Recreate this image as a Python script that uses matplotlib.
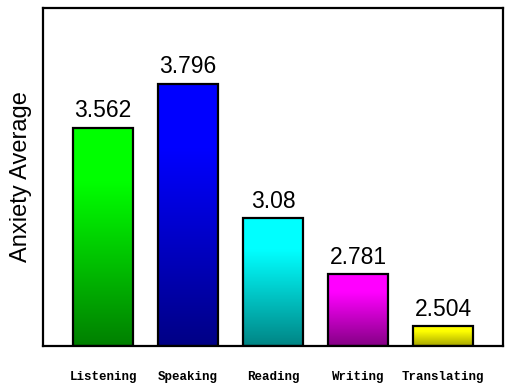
import numpy as np
import matplotlib
matplotlib.use("Agg")
import matplotlib.pyplot as plt
from matplotlib.colors import to_rgb

categories = ["Listening", "Speaking", "Reading", "Writing", "Translating"]
values = [3.562, 3.796, 3.08, 2.781, 2.504]
value_labels = ["3.562", "3.796", "3.08", "2.781", "2.504"]
bar_colors = ["#00ff00", "#0000ff", "#00ffff", "#ff00ff", "#ffff00"]
dark_factor = [0.5, 0.52, 0.52, 0.52, 0.65]

BASE = 2.4
TOP = 4.2

fig = plt.figure(figsize=(5.1, 3.9), dpi=100, facecolor="white")
ax = fig.add_axes([0.0843, 0.1128, 0.902, 0.8667])

x = np.arange(len(categories))
bars = ax.bar(x, np.array(values) - BASE, bottom=BASE, width=0.7,
              facecolor="none", edgecolor="black", linewidth=1.6, zorder=3)

# vertical gradient inside each bar: bright at top, darker at bottom
for bar, col, dk in zip(bars, bar_colors, dark_factor):
    top = np.array(to_rgb(col))
    bot = top * dk
    t = np.linspace(0, 1, 256)[:, None]          # 0 = bottom, 1 = top
    w = np.clip(t / 0.75, 0, 1)
    grad = bot + (top - bot) * w
    img = grad[:, None, :].repeat(2, axis=1)
    x0 = bar.get_x()
    im = ax.imshow(img, origin="lower", aspect="auto", zorder=2,
                   extent=[x0, x0 + bar.get_width(), BASE, BASE + bar.get_height()])
    im.set_clip_path(bar)

for xi, v, lab in zip(x, values, value_labels):
    ax.annotate(lab, (xi, v), xytext=(0, 4), textcoords="offset points",
                ha="center", va="bottom", fontsize=16.5, family="Liberation Sans")

ax.set_xlim(-0.706, 4.706)
ax.set_ylim(BASE, TOP)
ax.set_yticks([])
ax.set_xticks(x)
ax.set_xticklabels(categories, family="Liberation Mono", fontsize=9, fontweight="bold")
ax.tick_params(axis="x", length=0, pad=18)
for s in ax.spines.values():
    s.set_linewidth(1.6)

ax.set_ylabel("Anxiety Average", fontsize=17, family="Liberation Sans", labelpad=8)

fig.savefig("out.png", dpi=100, facecolor="white")
